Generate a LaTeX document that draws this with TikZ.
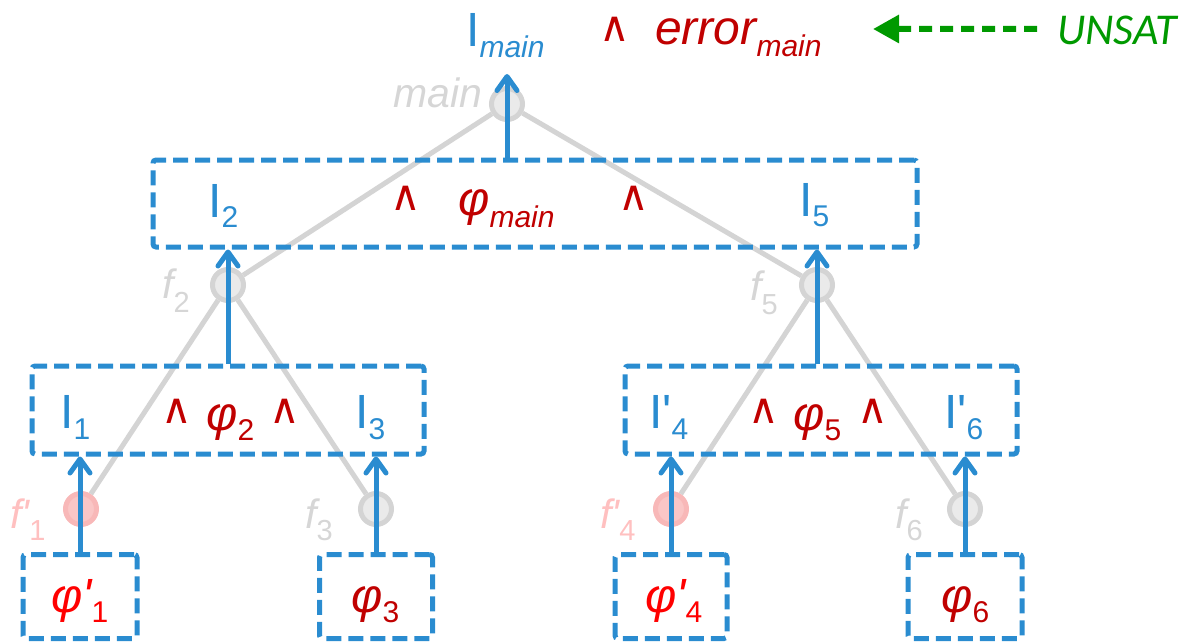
\documentclass[tikz,border=0pt]{standalone}
\usepackage{fontspec}
\setmainfont{Liberation Sans}[Ligatures=TeXOff]
\newfontfamily\djv{DejaVu Sans}
\newfontfamily\carl{Carlito}
\usetikzlibrary{arrows.meta,calc}
\definecolor{bl}{HTML}{2A8CD0}
\definecolor{dred}{HTML}{C00000}
\definecolor{bred}{HTML}{FF0000}
\definecolor{gln}{HTML}{D4D4D4}
\definecolor{gfill}{HTML}{EAEAEA}
\definecolor{glab}{HTML}{D6D6D6}
\definecolor{pfill}{HTML}{FAC6C6}
\definecolor{pstroke}{HTML}{F8B8B8}
\definecolor{plab}{HTML}{FFC0C0}
\definecolor{grn}{HTML}{009900}
\newcommand\Sb[2][10pt]{\raisebox{-#1}{\fontsize{30}{32}\selectfont #2}}
\newcommand\Fs[2][12pt]{\raisebox{-#1}{\upshape\fontsize{29}{32}\selectfont #2}}
\tikzset{
  txt/.style={inner sep=0pt, anchor=base west, font=\fontsize{48}{52}\selectfont},
  btxt/.style={txt, text=bl},
  rtxt/.style={txt, text=dred},
  wg/.style={inner sep=0pt, anchor=base, text=dred, font=\djv\fontsize{42}{46}\selectfont},
  flab/.style={inner sep=0pt, anchor=base west, text=glab, font=\itshape\fontsize{41}{44}\selectfont},
  dbox/.style={draw=bl, line width=5pt, dash pattern=on 15pt off 7pt, rounded corners=3pt, inner sep=0pt},
  gcirc/.style={circle, draw=gln, fill=gfill, line width=5pt, minimum size=31pt, inner sep=0pt},
  pcirc/.style={circle, draw=pstroke, fill=pfill, line width=5pt, minimum size=31pt, inner sep=0pt},
  gline/.style={draw=gln, line width=5pt},
  barrow/.style={draw=bl, line width=5pt, -{Straight Barb[length=14pt,width=20pt,round]}},
  garrow/.style={draw=grn, line width=6pt, dash pattern=on 13pt off 8pt, -{Triangle[length=26pt,width=27pt]}},
}
\begin{document}
\begin{tikzpicture}[x=1pt,y=-1pt]
\useasboundingbox (0,0) rectangle (1192,642);
% circles
\node[gcirc] (cmain) at (507,104) {};
\node[gcirc] (f2) at (228,285) {};
\node[gcirc] (f5) at (817,285) {};
\node[pcirc] (f1) at (81,509) {};
\node[gcirc] (f3) at (376,509) {};
\node[pcirc] (f4) at (671,509) {};
\node[gcirc] (f6) at (965,509) {};
% gray tree lines
\draw[gline] (cmain) -- (f2);
\draw[gline] (cmain) -- (f5);
\draw[gline] (f2) -- (f1);
\draw[gline] (f2) -- (f3);
\draw[gline] (f5) -- (f4);
\draw[gline] (f5) -- (f6);
% boxes
\node[dbox, minimum width=764pt, minimum height=87pt] (top) at (535,203.5) {};
\node[dbox, minimum width=392pt, minimum height=88pt] (bxa) at (228,410) {};
\node[dbox, minimum width=392pt, minimum height=88pt] (bxb) at (821,410) {};
\node[dbox, minimum width=114pt, minimum height=84pt] (b1) at (80,596.5) {};
\node[dbox, minimum width=113pt, minimum height=84pt] (b3) at (376,596.5) {};
\node[dbox, minimum width=112pt, minimum height=84pt] (b4) at (671,596.5) {};
\node[dbox, minimum width=114pt, minimum height=84pt] (b6) at (965,596.5) {};
% blue arrows
\draw[barrow] (b1.north) -- (b1.north |- bxa.south);
\draw[barrow] (b3.north) -- (b3.north |- bxa.south);
\draw[barrow] (b4.north) -- (b4.north |- bxb.south);
\draw[barrow] (b6.north) -- (b6.north |- bxb.south);
\draw[barrow] (f2 |- bxa.north) -- (f2 |- top.south);
\draw[barrow] (f5 |- bxb.north) -- (f5 |- top.south);
\draw[barrow] (cmain |- top.north) -- ([yshift=12pt]cmain.north);
% top line
\node[btxt] (imain) at (466,47) {I\Sb[11pt]{\itshape main}};
\node[wg] (wtop) at (615,42) {∧};
\node[rtxt, font=\itshape\fontsize{48}{52}\selectfont] (err) at (655,45) {error\Sb[12pt]{main}};
\node[inner sep=0pt, anchor=base west, text=grn, font=\carl\itshape\fontsize{44}{48}\selectfont] (unsat) at (1057,45) {UNSAT};
\coordinate (gtip) at (873,29);
\draw[garrow] ($(unsat.west)+(-20,-2)$) -- (gtip);
% labels
\node[flab] (lmain) at (393,107) {main};
\node[flab] (lf2) at (162,298) {f\Fs[14pt]{2}};
\node[flab] (lf5) at (750,300) {f\Fs[14pt]{5}};
\node[flab, text=plab] (lf1) at (10,528) {f'\Fs{1}};
\node[flab] (lf3) at (305,528) {f\Fs{3}};
\node[flab, text=plab] (lf4) at (600,528) {f'\Fs{4}};
\node[flab] (lf6) at (895,528) {f\Fs{6}};
% top box text
\node[btxt] (i2) at (208,217) {I\Sb{2}};
\node[wg] (w1) at (406,210) {∧};
\node[rtxt] (phm) at (458,215) {\itshape φ\Sb[12pt]{main}};
\node[wg] (w2) at (634,210) {∧};
\node[btxt] (i5) at (799,216) {I\Sb{5}};
% box a
\node[btxt] (i1) at (60,428) {I\Sb[11pt]{1}};
\node[wg] (w3) at (176.5,423) {∧};
\node[rtxt] (ph2) at (206,430) {\itshape φ\Sb{\upshape 2}};
\node[wg] (w4) at (285,423) {∧};
\node[btxt] (i3) at (355,428) {I\Sb[11pt]{3}};
% box b
\node[btxt] (i4) at (649,428) {I'\Sb[11pt]{4}};
\node[wg] (w5) at (764,423) {∧};
\node[rtxt] (ph5) at (793,430) {\itshape φ\Sb{\upshape 5}};
\node[wg] (w6) at (872.5,423) {∧};
\node[btxt] (i6) at (944,428) {I'\Sb[11pt]{6}};
% bottom boxes
\node[txt, text=bred] (ph1) at (51,612) {\itshape φ'\Sb{\upshape 1}};
\node[rtxt] (ph3) at (351,612) {\itshape φ\Sb{\upshape 3}};
\node[txt, text=bred] (ph4) at (645,612) {\itshape φ'\Sb{\upshape 4}};
\node[rtxt] (ph6) at (941,612) {\itshape φ\Sb{\upshape 6}};
\end{tikzpicture}
\end{document}
